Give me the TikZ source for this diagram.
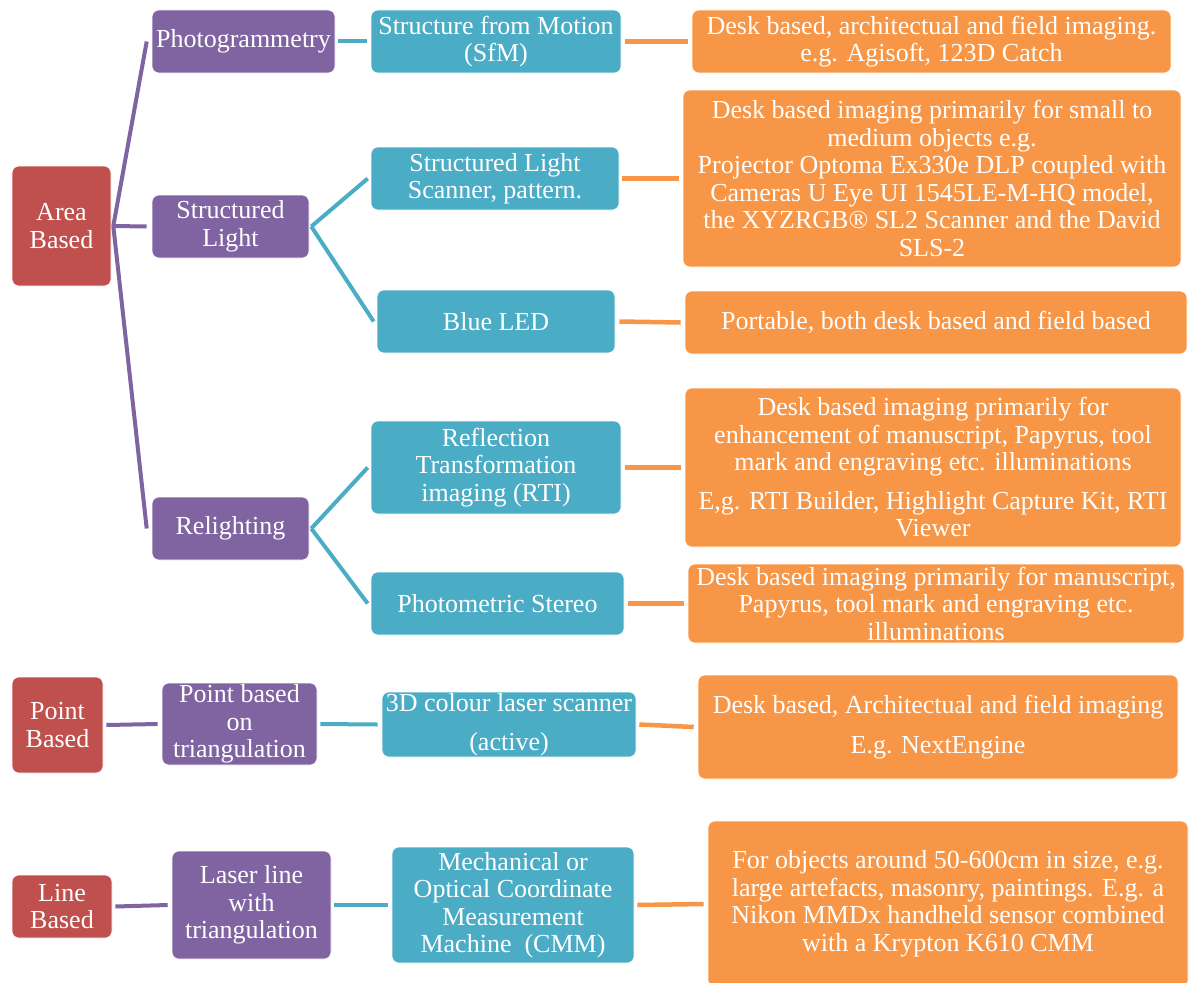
\documentclass[tikz,border=0pt]{standalone}
\usepackage{fontspec}
\setmainfont{Liberation Serif}
\definecolor{cred}{HTML}{C0504D}
\definecolor{cpur}{HTML}{8064A2}
\definecolor{cteal}{HTML}{4BACC6}
\definecolor{corg}{HTML}{F79646}
\begin{document}
\begin{tikzpicture}[x=1pt,y=-1pt,
  box/.style={rounded corners=7pt, inner sep=0pt, align=center, text=white,
    font=\fontsize{26}{27.5}\selectfont, draw=white, line width=0.6pt},
  redbox/.style={box, fill=cred},
  purbox/.style={box, fill=cpur},
  tealbox/.style={box, fill=cteal},
  orgbox/.style={box, fill=corg},
  purl/.style={draw=cpur, line width=4pt},
  teall/.style={draw=cteal, line width=4pt},
  orgl/.style={draw=corg, line width=4.5pt}]
\useasboundingbox (0,0) rectangle (1193,982);
\clip (0,0) rectangle (1193,982);
% column 1
\node[redbox, minimum width=99, minimum height=120] (area) at (61.5,226) {Area\\Based};
\node[redbox, minimum width=91, minimum height=96] (pb) at (57.5,725) {Point\\Based};
\node[redbox, minimum width=100, minimum height=63] (lb) at (62,906.5) {Line\\Based};
% column 2
\node[purbox, minimum width=183, minimum height=63] (photo) at (243.5,41.5) {Photogrammetry};
\node[purbox, minimum width=157, minimum height=63] (sl) at (230.5,226.5) {Structured\\Light};
\node[purbox, minimum width=157, minimum height=63] (rel) at (230.5,528.5) {Relighting};
\node[purbox, minimum width=155, minimum height=82] (pbt) at (239.5,724) {Point based\\on\\triangulation};
\node[purbox, minimum width=159, minimum height=108] (ll) at (251.5,905) {Laser line\\with\\triangulation};
% column 3
\node[tealbox, minimum width=250, minimum height=63] (sfm) at (496,41.5) {Structure from Motion\\(SfM)};
\node[tealbox, minimum width=248, minimum height=63] (sls) at (495,178.5) {Structured Light\\Scanner, pattern.};
\node[tealbox, minimum width=238, minimum height=63] (led) at (496,321.5) {Blue LED};
\node[tealbox, minimum width=250, minimum height=93] (rti) at (496,467.5) {Reflection\\Transformation\\imaging (RTI)};
\node[tealbox, minimum width=253, minimum height=63] (ps) at (497.5,603.5) {Photometric Stereo};
\node[tealbox, minimum width=254, minimum height=65] (d3) at (509,724.5) {3D colour laser scanner\\[11pt](active)};
\node[tealbox, minimum width=242, minimum height=116] (cmm) at (513,905) {Mechanical or\\Optical Coordinate\\Measurement\\Machine~~(CMM)};
% column 4
\node[orgbox, minimum width=479, minimum height=63] (o1) at (931.5,41.5) {Desk based, architectual and field imaging.\\e.g. Agisoft, 123D Catch};
\node[orgbox, minimum width=498, minimum height=177] (o2) at (932,178.5) {Desk based imaging primarily for small to\\medium objects e.g.\\Projector Optoma Ex330e DLP coupled with\\Cameras U Eye UI 1545LE-M-HQ model,\\the XYZRGB® SL2 Scanner and the David\\SLS-2};
\node[orgbox, minimum width=502, minimum height=63] (o3) at (936,322.5) {Portable, both desk based and field based};
\node[orgbox, minimum width=496, minimum height=159] (o4) at (933,467.5) {Desk based imaging primarily for\\enhancement of manuscript, Papyrus, tool\\mark and engraving etc. illuminations\\[11pt]E,g. RTI Builder, Highlight Capture Kit, RTI\\Viewer};
\node[orgbox, minimum width=496, minimum height=79] (o5) at (936,603.5) {Desk based imaging primarily for manuscript,\\Papyrus, tool mark and engraving etc.\\illuminations};
\node[orgbox, minimum width=480, minimum height=104] (o6) at (938,727) {Desk based, Architectual and field imaging\\[12pt]E.g. NextEngine};
\node[orgbox, minimum width=480, minimum height=166] (o7) at (948,904) {For objects around 50-600cm in size, e.g.\\large artefacts, masonry, paintings. E.g. a\\Nikon MMDx handheld sensor combined\\with a Krypton K610 CMM};
% connectors: level 1 -> 2
\draw[purl] ([xshift=2pt]area.east) -- ([xshift=-5pt]photo.west);
\draw[purl] ([xshift=2pt]area.east) -- ([xshift=-5pt]sl.west);
\draw[purl] ([xshift=2pt]area.east) -- ([xshift=-5pt]rel.west);
\draw[purl] ([xshift=3pt]pb.east) -- ([xshift=-4pt]pbt.west);
\draw[purl] ([xshift=3pt]lb.east) -- ([xshift=-4pt]ll.west);
% level 2 -> 3
\draw[teall] ([xshift=3pt]photo.east) -- ([xshift=-4pt]sfm.west);
\draw[teall] ([xshift=2pt]sl.east) -- ([xshift=-3pt]sls.west);
\draw[teall] ([xshift=2pt]sl.east) -- ([xshift=-3pt]led.west);
\draw[teall] ([xshift=2pt]rel.east) -- ([xshift=-3pt]rti.west);
\draw[teall] ([xshift=2pt]rel.east) -- ([xshift=-3pt]ps.west);
\draw[teall] ([xshift=3pt]pbt.east) -- ([xshift=-4pt]d3.west);
\draw[teall] ([xshift=3pt]ll.east) -- ([xshift=-4pt]cmm.west);
% level 3 -> 4
\draw[orgl] ([xshift=4pt]sfm.east) -- ([xshift=-4pt]o1.west);
\draw[orgl] ([xshift=3pt]sls.east) -- ([xshift=-4pt]o2.west);
\draw[orgl] ([xshift=4pt]led.east) -- ([xshift=-4pt]o3.west);
\draw[orgl] ([xshift=4pt]rti.east) -- ([xshift=-4pt]o4.west);
\draw[orgl] ([xshift=4pt]ps.east) -- ([xshift=-4pt]o5.west);
\draw[orgl] ([xshift=3pt]d3.east) -- ([xshift=-4pt]o6.west);
\draw[orgl] ([xshift=3pt]cmm.east) -- ([xshift=-4pt]o7.west);
\end{tikzpicture}
\end{document}
